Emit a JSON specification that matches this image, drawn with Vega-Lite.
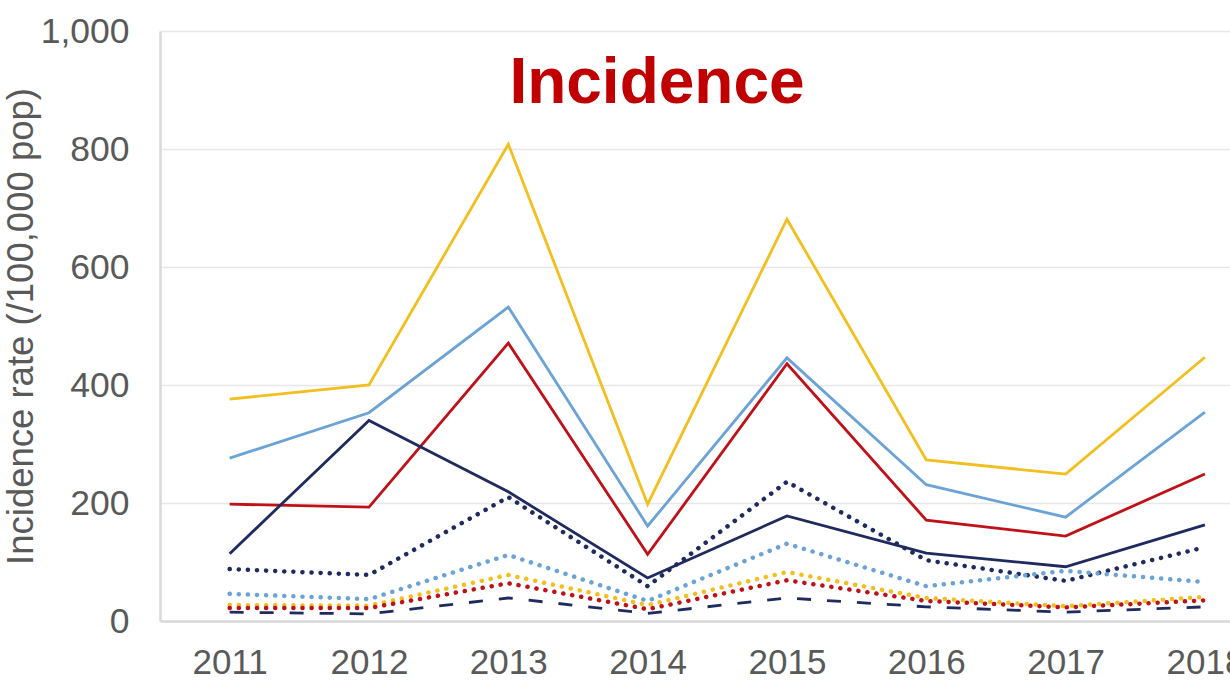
{
  "$schema": "https://vega.github.io/schema/vega-lite/v6.json",
  "autosize": {"type": "none"},
  "width": 1070,
  "height": 590,
  "padding": {"left": 160, "top": 31, "right": 0, "bottom": 63},
  "background": "white",
  "title": {
    "text": "Incidence",
    "anchor": "middle",
    "frame": "group",
    "font": "Liberation Sans",
    "fontSize": 64,
    "fontWeight": "bold",
    "color": "#C00000",
    "baseline": "alphabetic",
    "dx": -38,
    "dy": 157
  },
  "config": {
    "font": "Liberation Sans",
    "view": {"stroke": null}
  },
  "data": {
    "values": [
      {"year": 2011, "series": "S1", "value": 376}, {"year": 2012, "series": "S1", "value": 400}, {"year": 2013, "series": "S1", "value": 808}, {"year": 2014, "series": "S1", "value": 198}, {"year": 2015, "series": "S1", "value": 681}, {"year": 2016, "series": "S1", "value": 273}, {"year": 2017, "series": "S1", "value": 249}, {"year": 2018, "series": "S1", "value": 447},
      {"year": 2011, "series": "S2", "value": 276}, {"year": 2012, "series": "S2", "value": 353}, {"year": 2013, "series": "S2", "value": 532}, {"year": 2014, "series": "S2", "value": 161}, {"year": 2015, "series": "S2", "value": 446}, {"year": 2016, "series": "S2", "value": 231}, {"year": 2017, "series": "S2", "value": 176}, {"year": 2018, "series": "S2", "value": 354},
      {"year": 2011, "series": "S3", "value": 198}, {"year": 2012, "series": "S3", "value": 193}, {"year": 2013, "series": "S3", "value": 471}, {"year": 2014, "series": "S3", "value": 113}, {"year": 2015, "series": "S3", "value": 436}, {"year": 2016, "series": "S3", "value": 171}, {"year": 2017, "series": "S3", "value": 144}, {"year": 2018, "series": "S3", "value": 249},
      {"year": 2011, "series": "S4", "value": 114}, {"year": 2012, "series": "S4", "value": 340}, {"year": 2013, "series": "S4", "value": 219}, {"year": 2014, "series": "S4", "value": 73}, {"year": 2015, "series": "S4", "value": 178}, {"year": 2016, "series": "S4", "value": 115}, {"year": 2017, "series": "S4", "value": 92}, {"year": 2018, "series": "S4", "value": 163},
      {"year": 2011, "series": "S5", "value": 88}, {"year": 2012, "series": "S5", "value": 78}, {"year": 2013, "series": "S5", "value": 210}, {"year": 2014, "series": "S5", "value": 59}, {"year": 2015, "series": "S5", "value": 236}, {"year": 2016, "series": "S5", "value": 103}, {"year": 2017, "series": "S5", "value": 68}, {"year": 2018, "series": "S5", "value": 125},
      {"year": 2011, "series": "S6", "value": 46}, {"year": 2012, "series": "S6", "value": 37}, {"year": 2013, "series": "S6", "value": 112}, {"year": 2014, "series": "S6", "value": 34}, {"year": 2015, "series": "S6", "value": 131}, {"year": 2016, "series": "S6", "value": 59}, {"year": 2017, "series": "S6", "value": 85}, {"year": 2018, "series": "S6", "value": 66},
      {"year": 2011, "series": "S7", "value": 27}, {"year": 2012, "series": "S7", "value": 26}, {"year": 2013, "series": "S7", "value": 78}, {"year": 2014, "series": "S7", "value": 27}, {"year": 2015, "series": "S7", "value": 83}, {"year": 2016, "series": "S7", "value": 39}, {"year": 2017, "series": "S7", "value": 25}, {"year": 2018, "series": "S7", "value": 41},
      {"year": 2011, "series": "S8", "value": 22}, {"year": 2012, "series": "S8", "value": 22}, {"year": 2013, "series": "S8", "value": 64}, {"year": 2014, "series": "S8", "value": 20}, {"year": 2015, "series": "S8", "value": 69}, {"year": 2016, "series": "S8", "value": 34}, {"year": 2017, "series": "S8", "value": 23}, {"year": 2018, "series": "S8", "value": 35},
      {"year": 2011, "series": "S9", "value": 15}, {"year": 2012, "series": "S9", "value": 12}, {"year": 2013, "series": "S9", "value": 39}, {"year": 2014, "series": "S9", "value": 13}, {"year": 2015, "series": "S9", "value": 39}, {"year": 2016, "series": "S9", "value": 24}, {"year": 2017, "series": "S9", "value": 15}, {"year": 2018, "series": "S9", "value": 24}
    ]
  },
  "encoding": {
    "x": {
      "field": "year",
      "type": "quantitative",
      "scale": {"domain": [2010.5, 2018.18], "nice": false, "zero": false},
      "axis": {
        "title": null,
        "values": [2011, 2012, 2013, 2014, 2015, 2016, 2017, 2018],
        "format": "d",
        "grid": false,
        "ticks": false,
        "domainColor": "#d9d9d9",
        "domainWidth": 2.5,
        "labelFontSize": 35,
        "labelColor": "#595959",
        "labelPadding": 24,
        "labelFlush": false,
        "labelOverlap": false,
        "labelBound": false
      }
    },
    "y": {
      "field": "value",
      "type": "quantitative",
      "scale": {"domain": [0, 1000], "nice": false},
      "axis": {
        "title": "Incidence rate (/100,000 pop)",
        "titleFontSize": 36.5,
        "titleFontWeight": "normal",
        "titleColor": "#595959",
        "titlePadding": 0,
        "values": [0, 200, 400, 600, 800, 1000],
        "format": ",.0f",
        "ticks": false,
        "grid": true,
        "gridColor": "#e8e8e8",
        "gridWidth": 1.5,
        "domainColor": "#d9d9d9",
        "domainWidth": 2.5,
        "labelFontSize": 35.5,
        "labelColor": "#595959",
        "labelPadding": 31
      }
    },
    "color": {
      "field": "series",
      "type": "nominal",
      "legend": null,
      "scale": {
        "domain": ["S1", "S2", "S3", "S4", "S5", "S6", "S7", "S8", "S9"],
        "range": ["#F2BF1E", "#6BA3D6", "#C01018", "#1F2A5E", "#1F2A5E", "#6BA3D6", "#F2BF1E", "#C01018", "#1F2A5E"]
      }
    }
  },
  "layer": [
    {
      "transform": [{"filter": {"field": "series", "oneOf": ["S9"]}}],
      "mark": {"type": "line", "strokeWidth": 2.8, "strokeDash": [14, 16]}
    },
    {
      "transform": [{"filter": {"field": "series", "oneOf": ["S5", "S6", "S7", "S8"]}}],
      "mark": {"type": "line", "strokeWidth": 4.5, "strokeCap": "round", "strokeDash": [0.1, 9]}
    },
    {
      "transform": [{"filter": {"field": "series", "oneOf": ["S1", "S2", "S3", "S4"]}}],
      "mark": {"type": "line", "strokeWidth": 2.8}
    }
  ]
}
